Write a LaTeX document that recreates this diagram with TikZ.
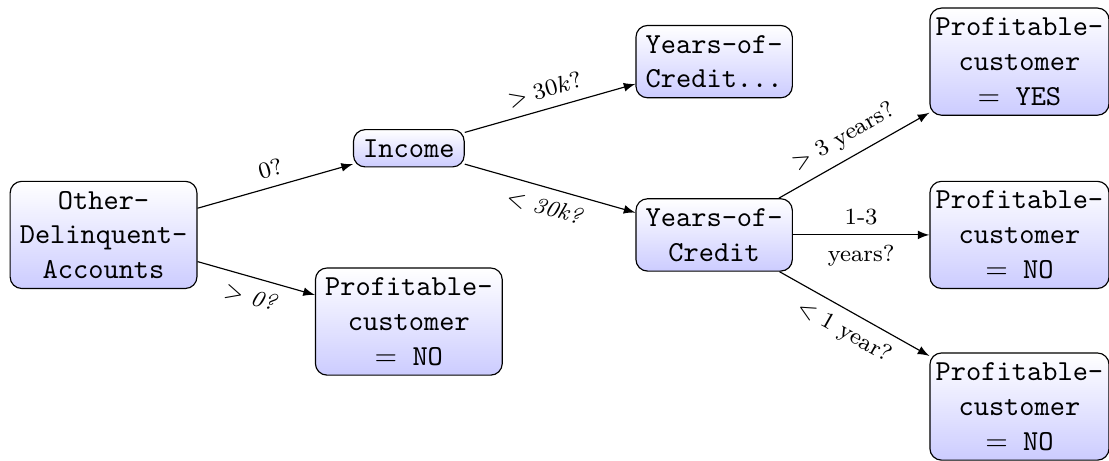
\documentclass[tikz,border=0pt]{standalone}
\usetikzlibrary{arrows}
\begin{document}
\begin{tikzpicture}[
  treenode/.style={draw, rounded corners, top color=white, bottom color=blue!20,
    font=\ttfamily, align=center},
  leafnode/.style={treenode, inner xsep=2pt},
  lbl/.style={font=\footnotesize, sloped, midway},
  conn/.style={-latex}
]
\useasboundingbox (-35.7pt,-77.8pt) rectangle (346.7pt,81pt);
\node[treenode] (other) at (0,0) {Other-\\Delinquent-\\Accounts};
\node[treenode] (income) at (3.7cm,1.05cm) {Income};
\node[treenode] (profl) at (3.7cm,-1.05cm) {Profitable-\\customer\\$=$ NO};
\node[treenode] (yoc2) at (7.4cm,2.1cm) {Years-of-\\Credit...};
\node[treenode] (yoc) at (7.4cm,0) {Years-of-\\Credit};
\node[leafnode] (profy) at (11.1cm,2.1cm) {Profitable-\\customer\\$=$ YES};
\node[leafnode] (profm) at (11.1cm,0) {Profitable-\\customer\\$=$ NO};
\node[leafnode] (profb) at (11.1cm,-2.08cm) {Profitable-\\customer\\$=$ NO};
\draw[conn] (other) -- node[lbl,above] {$0$?} (income);
\draw[conn] (other) -- node[lbl,below] {$>$ \textit{0?}} (profl);
\draw[conn] (income) -- node[lbl,above] {$> 30k$?} (yoc2);
\draw[conn] (income) -- node[lbl,below] {$<$ \textit{30k?}} (yoc);
\draw[conn] (yoc) -- node[lbl,above] {$>$ 3 years?} (profy);
\draw[conn] (yoc) -- node[lbl,above] {1-3} node[lbl,below] {years?} (profm);
\draw[conn] (yoc) -- node[lbl,below] {$<$ 1 year?} (profb);
\end{tikzpicture}
\end{document}
